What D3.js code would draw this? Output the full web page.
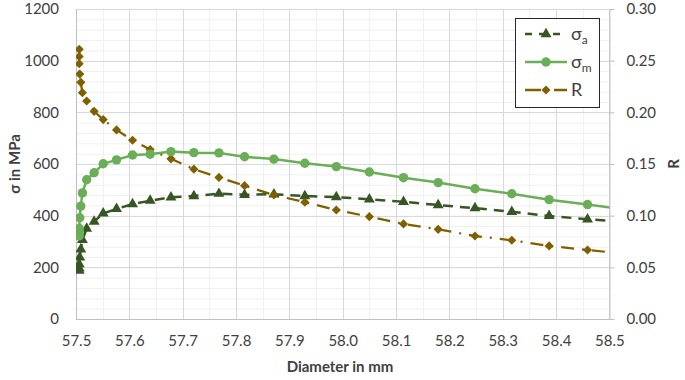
<!DOCTYPE html>
<html><head><meta charset="utf-8">
<script src="https://cdn.jsdelivr.net/npm/d3@7/dist/d3.min.js"></script>
<style>body{margin:0;background:#fff}svg{display:block;font-family:Lato,"Open Sans",sans-serif}</style>
</head><body><svg id="c" width="685" height="380"></svg>
<script>
const diameter = [57.506,57.506,57.506,57.507,57.509,57.512,57.520,57.534,57.551,57.576,57.606,57.639,57.678,57.721,57.768,57.816,57.871,57.929,57.988,58.050,58.114,58.179,58.248,58.317,58.387,58.459,58.531];
const sigmaA = [187,196,213,239,270,306,350,377,409,426,445,458,471,476,485,481,483,476,472,463,454,441,429,415,399,386,376];
const sigmaM = [322,338,351,392,437,488,539,566,601,616,635,638,648,644,643,628,619,603,590,569,547,528,504,485,462,443,423];
const rRatio = [0.261,0.254,0.247,0.237,0.229,0.219,0.211,0.201,0.193,0.183,0.173,0.164,0.155,0.145,0.137,0.129,0.120,0.113,0.1055,0.099,0.092,0.0868,0.0803,0.0762,0.0707,0.0668,0.0630];
const xTicks = [57.5,57.6,57.7,57.8,57.9,58.0,58.1,58.2,58.3,58.4,58.5];
const yTicks = [0,200,400,600,800,1000,1200];
const rTicks = [0,0.05,0.10,0.15,0.20,0.25,0.30];

const svg = d3.select("#c");
const L=76, R=609.4, T=9, B=319;
const x = d3.scaleLinear().domain([57.5,58.5]).range([L,R]);
const y = d3.scaleLinear().domain([0,1200]).range([B,T]);
const yr = d3.scaleLinear().domain([0,0.3]).range([B,T]);

svg.append("clipPath").attr("id","clip").append("rect").attr("x",L).attr("y",T-10).attr("width",R-L).attr("height",B-T+20);

// grid minor
const g = svg.append("g");
g.selectAll(".mh").data(d3.range(0,1201,40)).enter().append("line")
  .attr("x1",L).attr("x2",R).attr("y1",d=>y(d)+0.5).attr("y2",d=>y(d)+0.5).attr("stroke","#F0F0F0").attr("stroke-width",1);
g.selectAll(".mv").data(d3.range(0,21).map(i=>57.5+i*0.05)).enter().append("line")
  .attr("y1",T).attr("y2",B).attr("x1",d=>Math.round(x(d))+0.5).attr("x2",d=>Math.round(x(d))+0.5).attr("stroke","#F0F0F0").attr("stroke-width",1);
// grid major
g.selectAll(".Mh").data(yTicks).enter().append("line")
  .attr("x1",L).attr("x2",R).attr("y1",d=>Math.round(y(d))+0.5).attr("y2",d=>Math.round(y(d))+0.5).attr("stroke","#D9D9D9").attr("stroke-width",1);
g.selectAll(".Mv").data(xTicks).enter().append("line")
  .attr("y1",T).attr("y2",B).attr("x1",d=>Math.round(x(d))+0.5).attr("x2",d=>Math.round(x(d))+0.5).attr("stroke","#D9D9D9").attr("stroke-width",1);

// axes
const axL = svg.append("g").attr("transform",`translate(${L},0)`).call(d3.axisLeft(y).tickValues(yTicks).tickSize(0).tickPadding(17).tickFormat(d3.format("d")));
const axR = svg.append("g").attr("transform",`translate(${R},0)`).call(d3.axisRight(yr).tickValues(rTicks).tickSize(5).tickPadding(12).tickFormat(d3.format(".2f")));
const axB = svg.append("g").attr("transform",`translate(0,${B})`).call(d3.axisBottom(x).tickValues(xTicks).tickSize(0).tickPadding(16).tickFormat(d3.format(".1f")));
[axL,axR,axB].forEach(a=>{
  a.selectAll(".domain").attr("stroke","#BFBFBF");
  a.selectAll(".tick line").attr("stroke","#BFBFBF");
  a.selectAll("text").attr("font-size","15px").attr("fill","#404040").attr("font-family","Lato, 'Open Sans', sans-serif");
});
axR.selectAll(".tick line").attr("y1",0);
axL.select(".domain").attr("d",`M0.5,${T}V${B}`);
axB.select(".domain").attr("d",`M${L},0.5H${R}`);
axR.select(".domain").attr("d",`M0.5,${T}V${B}`);

// titles
svg.append("text").attr("transform","translate(20,164) rotate(-90)").attr("text-anchor","middle")
  .attr("font-weight","bold").attr("font-size","15px").attr("fill","#404040").text("σ in MPa");
svg.append("text").attr("transform","translate(679,164) rotate(-90)").attr("text-anchor","middle")
  .attr("font-weight","bold").attr("font-size","15px").attr("fill","#404040").text("R");
svg.append("text").attr("x",340).attr("y",372).attr("text-anchor","middle")
  .attr("font-weight","bold").attr("font-size","15px").attr("fill","#404040").text("Diameter in mm");

const cA="#375623", cM="#6AAF57", cR="#7F6000";
const plot = svg.append("g").attr("clip-path","url(#clip)");
const idx = d3.range(diameter.length);
const lineA = d3.line().x(i=>x(diameter[i])).y(i=>y(sigmaA[i]));
const lineM = d3.line().x(i=>x(diameter[i])).y(i=>y(sigmaM[i]));
const lineR = d3.line().x(i=>x(diameter[i])).y(i=>yr(rRatio[i]));
plot.append("path").attr("d",lineR(idx)).attr("fill","none").attr("stroke",cR).attr("stroke-width",2.25).attr("stroke-dasharray","13,8,2,8");
plot.append("path").attr("d",lineA(idx)).attr("fill","none").attr("stroke",cA).attr("stroke-width",2.5).attr("stroke-dasharray","10,7");
plot.append("path").attr("d",lineM(idx)).attr("fill","none").attr("stroke",cM).attr("stroke-width",2.5);

const tri = d3.symbol().type(d3.symbolTriangle).size(52);
const dia = d3.symbol().type(d3.symbolSquare).size(42);
plot.selectAll(".ta").data(idx).enter().append("path").attr("d",tri)
  .attr("transform",i=>`translate(${x(diameter[i])},${y(sigmaA[i])})`).attr("fill",cA);
plot.selectAll(".rm").data(idx).enter().append("path").attr("d",dia)
  .attr("transform",i=>`translate(${x(diameter[i])},${yr(rRatio[i])}) rotate(45)`).attr("fill",cR);
plot.selectAll(".cm").data(idx).enter().append("circle")
  .attr("cx",i=>x(diameter[i])).attr("cy",i=>y(sigmaM[i])).attr("r",4.7).attr("fill",cM);

// legend
const lg = svg.append("g");
lg.append("rect").attr("x",515.5).attr("y",18.5).attr("width",84).attr("height",89).attr("fill","#fff").attr("stroke","#262626").attr("stroke-width",1);
const items=[
  {c:cA,dash:"7,7",sym:tri,sub:"a",y:34,type:"a"},
  {c:cM,dash:null,sym:null,sub:"m",y:62,type:"m"},
  {c:cR,dash:"16,5,3,5",sym:dia,sub:null,y:90,type:"r"}
];
items.forEach(it=>{
  const l = lg.append("line").attr("x1",525).attr("x2",567).attr("y1",it.y).attr("y2",it.y).attr("stroke",it.c).attr("stroke-width",2.5);
  if(it.dash) l.attr("stroke-dasharray",it.dash);
  if(it.type==="m") lg.append("circle").attr("cx",546).attr("cy",it.y).attr("r",4.7).attr("fill",it.c);
  else lg.append("path").attr("d",it.sym).attr("transform",`translate(546,${it.y})${it.type==="r"?" rotate(45)":""}`).attr("fill",it.c);
  const t = lg.append("text").attr("x",571).attr("y",it.y+6).attr("font-size","18px").attr("fill","#404040");
  if(it.sub){ t.append("tspan").text("σ"); t.append("tspan").attr("font-size","12px").attr("dy",4).text(it.sub); }
  else t.text("R");
});
</script></body></html>
